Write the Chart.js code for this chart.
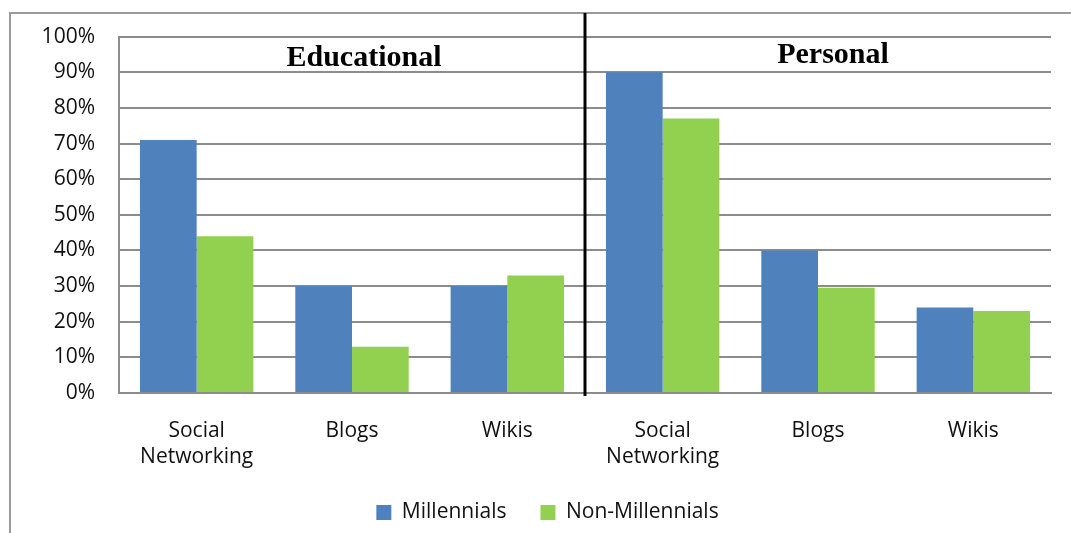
<!DOCTYPE html>
<html>
<head>
<meta charset="utf-8">
<script src="https://cdn.jsdelivr.net/npm/chart.js@4"></script>
<style>
  html, body { margin: 0; padding: 0; background: #ffffff; }
  #wrap { width: 1071px; height: 533px; position: relative; }
</style>
</head>
<body>
<div id="wrap"><canvas id="c" width="1071" height="533"></canvas></div>
<script>
const categories = [['Social', 'Networking'], 'Blogs', 'Wikis', ['Social', 'Networking'], 'Blogs', 'Wikis'];
const millennials = [71, 30, 30, 90, 40, 24];
const nonMillennials = [44, 13, 33, 77, 29.5, 23];
const seriesNames = ['Millennials', 'Non-Millennials'];
const sectionTitles = ['Educational', 'Personal'];
const yTickValues = [0, 10, 20, 30, 40, 50, 60, 70, 80, 90, 100];

const labelFont = { family: "'Open Sans', 'DejaVu Sans', sans-serif", size: 21 };

const decorPlugin = {
  id: 'decor',
  afterLayout(chart) {
    const lg = chart.legend;
    if (lg) { lg.left += 22; lg.right += 22; }
  },
  beforeDraw(chart) {
    const ctx = chart.ctx;
    ctx.save();
    ctx.strokeStyle = '#9a9a9a';
    ctx.lineWidth = 2;
    ctx.beginPath();
    ctx.moveTo(10, 540);
    ctx.lineTo(10, 13);
    ctx.lineTo(1080, 13);
    ctx.stroke();
    ctx.restore();
  },
  afterDatasetsDraw(chart) {
    const ctx = chart.ctx;
    const x = chart.scales.x;
    const area = chart.chartArea;
    const mid = x.getPixelForValue(2.5);
    ctx.save();
    ctx.strokeStyle = '#000000';
    ctx.lineWidth = 3;
    ctx.beginPath();
    ctx.moveTo(mid, 13);
    ctx.lineTo(mid, area.bottom + 3);
    ctx.stroke();
    ctx.fillStyle = '#000000';
    ctx.font = "bold 30px 'Liberation Serif', 'Times New Roman', serif";
    ctx.textAlign = 'center';
    ctx.textBaseline = 'middle';
    ctx.fillText(sectionTitles[0], x.getPixelForValue(1) + 12, 58);
    ctx.fillText(sectionTitles[1], x.getPixelForValue(4) + 15, 55);
    ctx.restore();
  }
};

new Chart(document.getElementById('c'), {
  type: 'bar',
  data: {
    labels: categories,
    datasets: [
      { label: seriesNames[0], data: millennials, backgroundColor: '#4f81bd', borderWidth: 0 },
      { label: seriesNames[1], data: nonMillennials, backgroundColor: '#92d050', borderWidth: 0 }
    ]
  },
  options: {
    responsive: false,
    animation: false,
    devicePixelRatio: 1,
    layout: { padding: { top: 36, right: 20, bottom: 0, left: 0 } },
    datasets: { bar: { categoryPercentage: 0.73, barPercentage: 1.0 } },
    plugins: {
      legend: {
        position: 'bottom',
        labels: {
          boxWidth: 15, boxHeight: 15, padding: 34,
          color: '#111111',
          font: labelFont
        }
      },
      tooltip: { enabled: false },
      title: { display: false }
    },
    scales: {
      x: {
        grid: { display: false, drawTicks: false },
        border: { display: true, color: '#8c8c8c', width: 2 },
        ticks: { color: '#111111', font: { ...labelFont, lineHeight: 1.25 }, padding: 25, maxRotation: 0, autoSkip: false },
        afterFit(scale) { scale.height = 75; }
      },
      y: {
        min: 0, max: 100,
        afterBuildTicks(scale) { scale.ticks = yTickValues.map(v => ({ value: v })); },
        grid: { color: '#8c8c8c', lineWidth: 2, drawTicks: false },
        border: { display: true, color: '#8c8c8c', width: 2 },
        ticks: { color: '#111111', font: labelFont, padding: 24, callback: v => v + '%' },
        afterFit(scale) { scale.width = 119; }
      }
    }
  },
  plugins: [decorPlugin]
});
</script>
</body>
</html>
